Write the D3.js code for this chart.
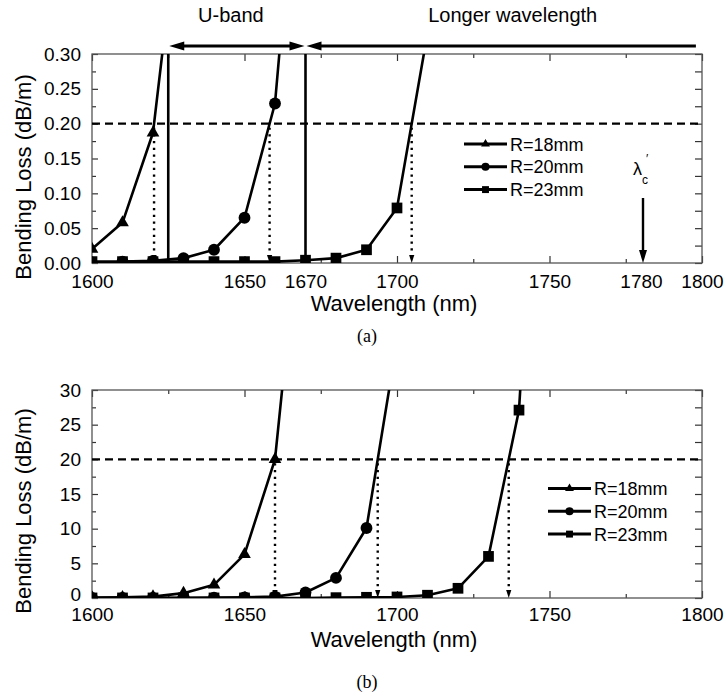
<!DOCTYPE html>
<html><head><meta charset="utf-8">
<script src="https://cdn.jsdelivr.net/npm/d3@7"></script>
<style>
body{margin:0;background:#fff}
svg{display:block}
</style>
</head><body>
<svg id="c" width="726" height="697" font-family="Liberation Sans, Arial, sans-serif"></svg>
<script>
// ---------------- data ----------------
const seriesNames = ["R=18mm", "R=20mm", "R=23mm"];
const seriesSymbols = ["triangle", "circle", "square"];

// panel (a)
const aR18Wl = [1600, 1610, 1620, 1630];
const aR18Loss = [0.020, 0.058, 0.187, 0.56];
const aR20Wl = [1610, 1620, 1630, 1640, 1650, 1660, 1670];
const aR20Loss = [0.002, 0.003, 0.007, 0.019, 0.065, 0.229, 0.73];
const aR23Wl = [1600, 1610, 1620, 1630, 1640, 1650, 1660, 1670, 1680, 1690, 1700, 1710];
const aR23Loss = [0.002, 0.002, 0.002, 0.002, 0.002, 0.002, 0.002, 0.004, 0.007, 0.019, 0.079, 0.33];
const aThreshold = 0.20;

// panel (b)
const bR18Wl = [1600, 1610, 1620, 1630, 1640, 1650, 1660, 1670];
const bR18Loss = [0.05, 0.1, 0.2, 0.7, 1.9, 6.3, 20.0, 63];
const bR20Wl = [1600, 1610, 1620, 1630, 1640, 1650, 1660, 1670, 1680, 1690, 1700];
const bR20Loss = [0.01, 0.01, 0.02, 0.03, 0.05, 0.1, 0.2, 0.8, 2.9, 10.1, 37];
const bR23Wl = [1600, 1610, 1620, 1630, 1640, 1650, 1660, 1670, 1680, 1690, 1700, 1710, 1720, 1730, 1740, 1750];
const bR23Loss = [0.01, 0.01, 0.01, 0.01, 0.01, 0.01, 0.01, 0.01, 0.05, 0.1, 0.15, 0.4, 1.4, 6.0, 27.1, 100];
const bThreshold = 20;

// axes
const xDomain = [1600, 1800];
const xLabelsA = [1600, 1650, 1670, 1700, 1750, 1780, 1800];
const xLabelsB = [1600, 1650, 1700, 1750, 1800];
const yDomainA = [0, 0.30];
const yDomainB = [0, 30];
const yLabelsA = [0, 0.05, 0.10, 0.15, 0.20, 0.25, 0.30];
const yLabelsB = [0, 5, 10, 15, 20, 25, 30];

// annotations (panel a)
const uBandStart = 1625, uBandEnd = 1670, longerEnd = 1798, cutoffWl = 1780;

// ---------------- drawing ----------------
const svg = d3.select("#c");
const FONT_TICK = 19, FONT_TITLE = 22;

function crossing(wl, loss, thr) {
  for (let i = 1; i < wl.length; i++) {
    if (loss[i - 1] < thr && loss[i] >= thr) {
      return wl[i - 1] + (thr - loss[i - 1]) / (loss[i] - loss[i - 1]) * (wl[i] - wl[i - 1]);
    }
  }
  return null;
}

function symbolOf(name) {
  return name === "triangle" ? d3.symbolTriangle : name === "circle" ? d3.symbolCircle : d3.symbolSquare;
}
const markerSize = {triangle: 70, circle: 110, square: 115};
const legendSize = {triangle: 34, circle: 52, square: 48};

function drawPanel(cfg) {
  const {id, left, right, top, bottom, yDomain, yLabels, yFmt, yMinor, xLabels, series, thr, labelPad, zeroLift, legendX, legendY, caption, captionY, xTitleY, yTitleCY} = cfg;
  const x = d3.scaleLinear().domain(xDomain).range([left, right]);
  const y = d3.scaleLinear().domain(yDomain).range([bottom, top]);
  const g = svg.append("g");

  g.append("clipPath").attr("id", "clip" + id)
    .append("rect").attr("x", left).attr("y", top).attr("width", right - left).attr("height", bottom - top);

  // tick marks (inward, all four sides)
  const xMajor = d3.range(1600, 1801, 50), xMinor = d3.range(1625, 1800, 50);
  const tickGroups = [
    [d3.axisBottom(x).tickValues(xMajor).tickSize(-7), `translate(0,${bottom})`],
    [d3.axisBottom(x).tickValues(xMinor).tickSize(-4), `translate(0,${bottom})`],
    [d3.axisTop(x).tickValues(xMajor).tickSize(-7), `translate(0,${top})`],
    [d3.axisTop(x).tickValues(xMinor).tickSize(-4), `translate(0,${top})`],
    [d3.axisLeft(y).tickValues(yLabels).tickSize(-6), `translate(${left},0)`],
    [d3.axisLeft(y).tickValues(yMinor).tickSize(-4), `translate(${left},0)`],
    [d3.axisRight(y).tickValues(yLabels).tickSize(-7), `translate(${right},0)`],
    [d3.axisRight(y).tickValues(yMinor).tickSize(-7), `translate(${right},0)`]
  ];
  tickGroups.forEach(([ax, tr]) => {
    const a = g.append("g").attr("transform", tr).call(ax.tickFormat(""));
    a.select(".domain").remove();
    a.selectAll("line").attr("stroke", "#333").attr("stroke-width", 1.2);
  });

  // frame
  g.append("rect").attr("x", left).attr("y", top).attr("width", right - left).attr("height", bottom - top)
    .attr("fill", "none").attr("stroke", "#555").attr("stroke-width", 1.3);

  // tick labels
  const xl = g.append("g").attr("transform", `translate(0,${bottom})`)
    .call(d3.axisBottom(x).tickValues(xLabels).tickSize(0).tickPadding(labelPad).tickFormat(d3.format("d")));
  xl.select(".domain").remove();
  xl.attr("font-size", FONT_TICK).attr("font-family", "Liberation Sans, Arial, sans-serif");
  xl.selectAll("text").attr("fill", "#000");
  const yl = g.append("g").attr("transform", `translate(${left},0)`)
    .call(d3.axisLeft(y).tickValues(yLabels).tickSize(0).tickPadding(11).tickFormat(yFmt));
  yl.select(".domain").remove();
  yl.attr("font-size", FONT_TICK).attr("font-family", "Liberation Sans, Arial, sans-serif");
  yl.selectAll("text").attr("fill", "#000");
  yl.selectAll(".tick").filter(d => d === 0).select("text").attr("y", -zeroLift);

  // threshold dashed line
  g.append("line").attr("x1", left).attr("x2", right).attr("y1", y(thr)).attr("y2", y(thr))
    .attr("stroke", "#000").attr("stroke-width", 2.2).attr("stroke-dasharray", "8,5");

  // dotted drop lines with arrowheads
  series.forEach(s => {
    const cx = crossing(s.wl, s.loss, thr);
    if (cx === null) return;
    g.append("line").attr("x1", x(cx)).attr("x2", x(cx)).attr("y1", y(thr) + 4).attr("y2", bottom - 6)
      .attr("stroke", "#000").attr("stroke-width", 2.4).attr("stroke-dasharray", "2.2,4.5");
    g.append("path")
      .attr("d", `M${x(cx) - 2.6},${bottom - 8} L${x(cx) + 2.6},${bottom - 8} L${x(cx)},${bottom} Z`)
      .attr("fill", "#000");
  });

  // series lines and markers (clipped to the plot area)
  const plot = g.append("g").attr("clip-path", `url(#clip${id})`);
  const line = d3.line().x(d => x(d[0])).y(d => y(d[1]));
  series.slice().reverse().forEach(s => {
    const pts = s.wl.map((w, i) => [w, s.loss[i]]);
    plot.append("path").datum(pts).attr("d", line).attr("fill", "none")
      .attr("stroke", "#000").attr("stroke-width", 2.6).attr("stroke-linejoin", "round");
  });
  series.slice().reverse().forEach(s => {
    const pts = s.wl.map((w, i) => [w, s.loss[i]]);
    plot.selectAll(null).data(pts).enter().append("path")
      .attr("transform", d => `translate(${x(d[0])},${y(d[1])})`)
      .attr("d", d3.symbol().type(symbolOf(s.symbol)).size(markerSize[s.symbol]))
      .attr("fill", "#000");
  });

  // legend
  series.forEach((s, i) => {
    const cy = legendY + i * 22.8;
    g.append("line").attr("x1", legendX).attr("x2", legendX + 43).attr("y1", cy).attr("y2", cy)
      .attr("stroke", "#000").attr("stroke-width", 3);
    g.append("path").attr("transform", `translate(${legendX + 21.5},${cy})`)
      .attr("d", d3.symbol().type(symbolOf(s.symbol)).size(legendSize[s.symbol])).attr("fill", "#000");
    g.append("text").attr("x", legendX + 46).attr("y", cy + 6.6).attr("font-size", 18).text(s.name);
  });

  // axis titles
  g.append("text").attr("x", (left + right) / 2 - 3).attr("y", xTitleY).attr("text-anchor", "middle")
    .attr("font-size", FONT_TITLE).text("Wavelength (nm)");
  g.append("text").attr("transform", `translate(31,${yTitleCY}) rotate(-90)`).attr("text-anchor", "middle")
    .attr("font-size", FONT_TITLE).text("Bending Loss (dB/m)");
  g.append("text").attr("x", (left + right) / 2 - 30).attr("y", captionY).attr("text-anchor", "middle")
    .attr("font-size", 18).attr("font-family", "Liberation Serif, Times New Roman, serif").text(caption);

  return {x, y, g};
}

const mk = (wl, loss, i) => ({wl, loss, name: seriesNames[i], symbol: seriesSymbols[i]});

const A = drawPanel({
  id: "a", left: 92, right: 702, top: 54, bottom: 263,
  yDomain: yDomainA, yLabels: yLabelsA, yFmt: d3.format(".2f"), yMinor: d3.range(0.025, 0.30, 0.05),
  xLabels: xLabelsA, thr: aThreshold, labelPad: 12, zeroLift: 0,
  series: [mk(aR18Wl, aR18Loss, 0), mk(aR20Wl, aR20Loss, 1), mk(aR23Wl, aR23Loss, 2)],
  legendX: 464, legendY: 144, caption: "(a)", captionY: 342, xTitleY: 311, yTitleCY: 177
});

const B = drawPanel({
  id: "b", left: 92, right: 702, top: 390, bottom: 598,
  yDomain: yDomainB, yLabels: yLabelsB, yFmt: d3.format("d"), yMinor: d3.range(2.5, 30, 5),
  xLabels: xLabelsB, thr: bThreshold, labelPad: 10, zeroLift: 4,
  series: [mk(bR18Wl, bR18Loss, 0), mk(bR20Wl, bR20Loss, 1), mk(bR23Wl, bR23Loss, 2)],
  legendX: 548, legendY: 488.5, caption: "(b)", captionY: 688, xTitleY: 647, yTitleCY: 511
});

// ---- panel (a) annotations ----
(function () {
  const {x, g} = A;
  const top = 54, bottom = 263, ay = 46;
  [uBandStart, uBandEnd].forEach(w => {
    g.append("line").attr("x1", x(w)).attr("x2", x(w)).attr("y1", top).attr("y2", bottom)
      .attr("stroke", "#000").attr("stroke-width", 2.6);
  });
  const head = (tipX, dir, yy) => `M${tipX},${yy} L${tipX + dir * 15},${yy - 4.5} L${tipX + dir * 15},${yy + 4.5} Z`;
  // U-band double arrow
  const u0 = x(uBandStart) + 1, u1 = x(uBandEnd) - 1;
  g.append("line").attr("x1", u0 + 10).attr("x2", u1 - 10).attr("y1", ay).attr("y2", ay).attr("stroke", "#000").attr("stroke-width", 3);
  g.append("path").attr("d", head(u0, 1, ay)).attr("fill", "#000");
  g.append("path").attr("d", head(u1, -1, ay)).attr("fill", "#000");
  // longer wavelength arrow
  const l0 = x(uBandEnd) + 1, l1 = x(longerEnd);
  g.append("line").attr("x1", l0 + 10).attr("x2", l1).attr("y1", ay).attr("y2", ay).attr("stroke", "#000").attr("stroke-width", 3);
  g.append("path").attr("d", head(l0, 1, ay)).attr("fill", "#000");
  g.append("text").attr("x", (x(uBandStart) + x(uBandEnd)) / 2 - 6).attr("y", 22).attr("text-anchor", "middle")
    .attr("font-size", 20).text("U-band");
  g.append("text").attr("x", (x(uBandEnd) + x(longerEnd)) / 2 + 12).attr("y", 22).attr("text-anchor", "middle")
    .attr("font-size", 20).text("Longer wavelength");
  // cutoff wavelength arrow
  const cx = x(cutoffWl) + 2;
  g.append("line").attr("x1", cx).attr("x2", cx).attr("y1", 198).attr("y2", bottom - 10).attr("stroke", "#000").attr("stroke-width", 2.4);
  g.append("path").attr("d", `M${cx - 4},${bottom - 13} L${cx + 4},${bottom - 13} L${cx},${bottom} Z`).attr("fill", "#000");
  const t = g.append("text").attr("x", cx - 10).attr("y", 175).attr("font-size", 18);
  t.append("tspan").text("λ");
  t.append("tspan").attr("font-size", 12).attr("dy", 9).attr("dx", 0).text("c");
  t.append("tspan").attr("font-size", 12).attr("dy", -21).attr("dx", -2).text("′");
})();
</script>
</body></html>
